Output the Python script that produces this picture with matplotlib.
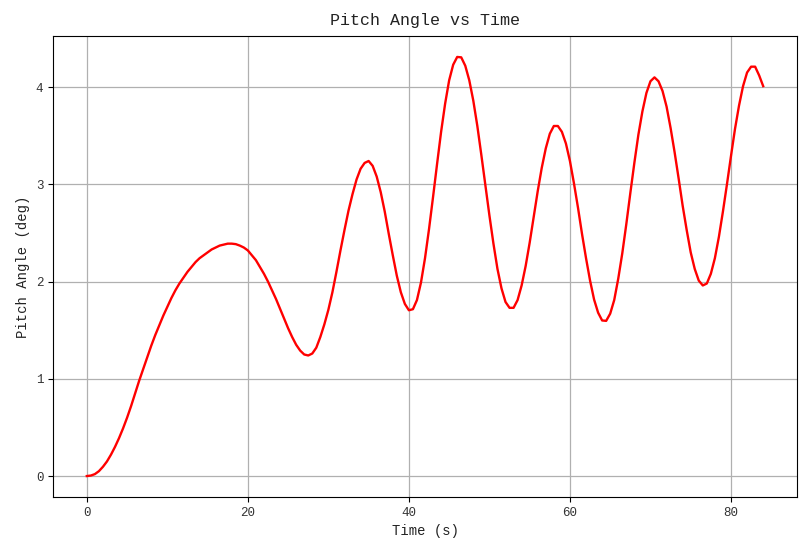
import matplotlib
matplotlib.use("Agg")
import matplotlib.pyplot as plt

time_s = [i * 0.5 for i in range(169)]

pitch_deg = [
    0.00, 0.005, 0.02, 0.05, 0.095, 0.15, 0.22, 0.30, 0.39, 0.49,
    0.60, 0.72, 0.85, 0.98, 1.10, 1.22, 1.34, 1.45, 1.55, 1.65,
    1.74, 1.83, 1.91, 1.98, 2.04, 2.10, 2.15, 2.20, 2.24, 2.27,
    2.30, 2.33, 2.35, 2.37, 2.38, 2.39, 2.39, 2.385, 2.37, 2.35,
    2.32, 2.27, 2.22, 2.15, 2.08, 2.00, 1.91, 1.82, 1.72, 1.62,
    1.52, 1.43, 1.35, 1.29, 1.25, 1.24, 1.26, 1.32, 1.43, 1.56,
    1.71, 1.89, 2.10, 2.32, 2.53, 2.73, 2.90, 3.05, 3.16, 3.22,
    3.24, 3.19, 3.08, 2.92, 2.72, 2.49, 2.27, 2.06, 1.89, 1.77,
    1.705, 1.716, 1.81, 1.99, 2.24, 2.54, 2.87, 3.21, 3.54, 3.83,
    4.07, 4.23, 4.31, 4.306, 4.22, 4.07, 3.86, 3.60, 3.30, 2.99,
    2.68, 2.39, 2.13, 1.93, 1.79, 1.73, 1.73, 1.81, 1.96, 2.16,
    2.40, 2.665, 2.93, 3.17, 3.37, 3.52, 3.60, 3.60, 3.54, 3.42,
    3.24, 3.01, 2.76, 2.49, 2.24, 2.01, 1.815, 1.68, 1.60, 1.596,
    1.67, 1.81, 2.03, 2.29, 2.59, 2.91, 3.22, 3.51, 3.75, 3.94,
    4.06, 4.10, 4.06, 3.96, 3.80, 3.58, 3.33, 3.06, 2.78, 2.53,
    2.30, 2.13, 2.01, 1.96, 1.98, 2.08, 2.24, 2.46, 2.72, 3.00,
    3.29, 3.57, 3.81, 4.01, 4.15, 4.21, 4.21, 4.12, 4.01,
]

x_ticks = [0, 20, 40, 60, 80]
y_ticks = [0, 1, 2, 3, 4]

plt.rcParams['font.family'] = ['Liberation Mono', 'DejaVu Sans Mono']

fig = plt.figure(figsize=(8.09, 5.55), dpi=100)
ax = fig.add_axes([53 / 809, 1 - 497 / 555, (797 - 53) / 809, (497 - 36) / 555])
ax.plot(time_s, pitch_deg, color='red', linewidth=1.7, solid_joinstyle='round')
ax.set_xticks(x_ticks)
ax.set_yticks(y_ticks)
ax.tick_params(labelsize=9, labelcolor='#333333')
ax.grid(True, color='#b0b0b0', linewidth=0.9)
ax.set_xlabel('Time (s)', fontsize=10, color='#222222')
ax.set_ylabel('Pitch Angle (deg)', fontsize=10, color='#222222')
ax.set_title('Pitch Angle vs Time', fontsize=12, pad=8, color='#222222')
fig.savefig('out.png', dpi=100)
